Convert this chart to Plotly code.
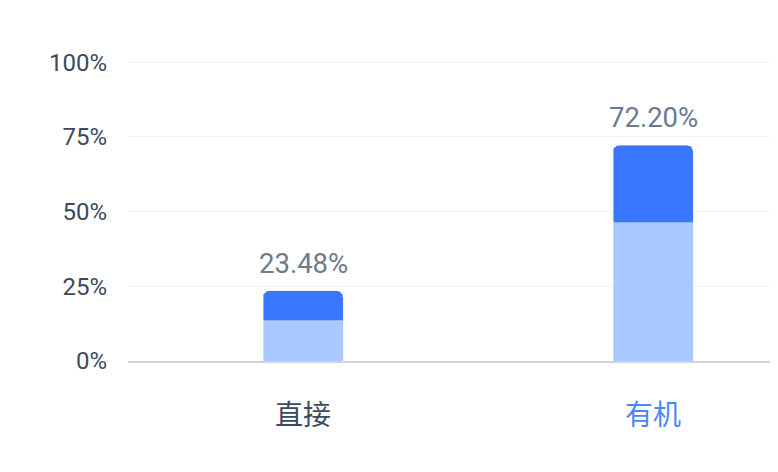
import plotly.graph_objects as go

categories = ['直接', '有机']
lower_values = [13.5, 46.3]
totals = [23.48, 72.20]
upper_values = [t - l for t, l in zip(totals, lower_values)]
y_ticks = [0, 25, 50, 75, 100]
y_tick_labels = ['0%', '25%', '50%', '75%', '100%']
cat_colors = ['#3b4a5e', '#4a89f5']

FONT = 'Roboto, "Noto Sans CJK SC", sans-serif'
x = list(range(len(categories)))

fig = go.Figure()
fig.add_trace(go.Bar(x=x, y=lower_values, marker_color='#a8c8ff',
                     width=0.2286, hoverinfo='skip'))
fig.add_trace(go.Bar(x=x, y=upper_values, marker_color='#3b76ff',
                     width=0.2286, hoverinfo='skip'))

for i, t in enumerate(totals):
    fig.add_annotation(x=x[i], y=t, text=f'{t:.2f}%', showarrow=False,
                       yanchor='bottom', yshift=9,
                       font=dict(size=27.5, color='#6b7a8e', family=FONT))

ticktext = [f'<span style="color:{c}">{n}</span>' for n, c in zip(categories, cat_colors)]

fig.update_layout(
    width=790, height=472,
    barmode='stack',
    barcornerradius=6,
    showlegend=False,
    plot_bgcolor='white', paper_bgcolor='white',
    margin=dict(l=120, r=0, t=53, b=119),
    font=dict(family=FONT),
    xaxis=dict(range=[-0.5, 1.414], tickvals=x, ticktext=ticktext,
               showgrid=False, zeroline=False, showline=True,
               linecolor='#cfd3dc', linewidth=2, ticks='',
               tickfont=dict(size=28, color='#3b4a5e'), ticklabelstandoff=28),
    yaxis=dict(range=[0, 100.4], tickvals=y_ticks, ticktext=y_tick_labels,
               showgrid=True, gridcolor='#f0f2f5', gridwidth=1,
               zeroline=False, ticks='', ticklabelstandoff=20,
               tickfont=dict(size=24, color='#3b4a5e')),
)

fig.write_html('out.html', default_width='790px', default_height='472px')
